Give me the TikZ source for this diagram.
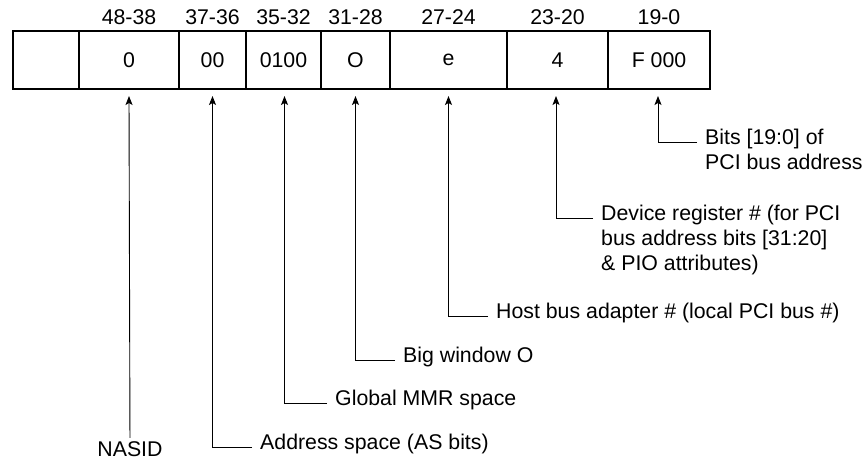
\documentclass[tikz,border=0pt]{standalone}
\usepackage{fontspec}
\setmainfont{Liberation Sans}
\usetikzlibrary{arrows.meta}

\begin{document}
\begin{tikzpicture}[x=1pt,y=-1pt,
    elbow/.style={to path={-| (\tikztotarget)}}]
    \useasboundingbox (0,0) rectangle (866,460);

        % Fields of the address, use the tuple for location
        \begin{scope}[every node/.style={draw,line width=1.2pt,minimum height=58pt,inner sep=0pt,
                      font=\fontsize{21.3}{25}\selectfont}]
        \node[minimum width=66pt] (F0) at (46,60) {};
        \node[minimum width=100pt] (F1) at (129,60) {0};
        \node[minimum width=67pt] (F2) at (212.5,60) {00};
        \node[minimum width=75pt] (F3) at (283.5,60) {0100};
        \node[minimum width=69pt] (F4) at (355.5,60) {O};
        \node[minimum width=117pt] (F5) at (448.5,60) {e};
        \node[minimum width=101pt] (F6) at (557.5,60) {4};
        \node[minimum width=102pt] (F7) at (659,60) {F 000};
        \end{scope}

        % Bit ranges over the fields
        \begin{scope}[every node/.style={font=\fontsize{21.3}{25}\selectfont}]
        \node (R1) at (129,17) {48-38};
        \node (R2) at (212.5,17) {37-36};
        \node (R3) at (283.5,17) {35-32};
        \node (R4) at (355.5,17) {31-28};
        \node (R5) at (448.5,17) {27-24};
        \node (R6) at (557.5,17) {23-20};
        \node (R7) at (659,17) {19-0};
        \end{scope}

        % Arrow tips under the fields
        \coordinate (T1) at (129,96);
        \coordinate (T2) at (212.5,96);
        \coordinate (T3) at (284.5,96);
        \coordinate (T4) at (355.5,96);
        \coordinate (T5) at (448.5,96);
        \coordinate (T6) at (556,96);
        \coordinate (T7) at (658,96);

        % Notes, the tuple is where the line ends
        \node[font=\fontsize{21.3}{25}\selectfont] (N1) at (130,449) {NASID};
        \begin{scope}[every node/.style={anchor=mid west,inner xsep=8pt,inner ysep=2pt,
                      font=\fontsize{21.3}{25}\selectfont}]
        \node (N2) at (252,447) {Address space (AS bits)};
        \node (N3) at (327,403) {Global MMR space};
        \node (N4) at (395,360) {Big window O};
        \node (N5) at (488,316) {Host bus adapter \# (local PCI bus \#)};
        \node (N6) at (593,218) {\begin{tabular}[t]{@{}l@{}}Device register \# (for PCI\\
            bus address bits [31:20]\\ \& PIO attributes)\end{tabular}};
        \node (N7) at (697,142) {\begin{tabular}[t]{@{}l@{}}Bits [19:0] of\\
            PCI bus address\end{tabular}};
        \end{scope}

        % Remove or add new connectors here
        \begin{scope}[>={Stealth[length=9pt,width=7pt,inset=2pt]},
                  every edge/.style={draw=black, line width=0.9pt}]
        \path [->] (N1) edge (T1);
        \path [->] (N2.mid west) edge[elbow] (T2);
        \path [->] (N3.mid west) edge[elbow] (T3);
        \path [->] (N4.mid west) edge[elbow] (T4);
        \path [->] (N5.mid west) edge[elbow] (T5);
        \path [->] (N6.mid west) edge[elbow] (T6);
        \path [->] (N7.mid west) edge[elbow] (T7);
        \end{scope}

\end{tikzpicture}
\end{document}
